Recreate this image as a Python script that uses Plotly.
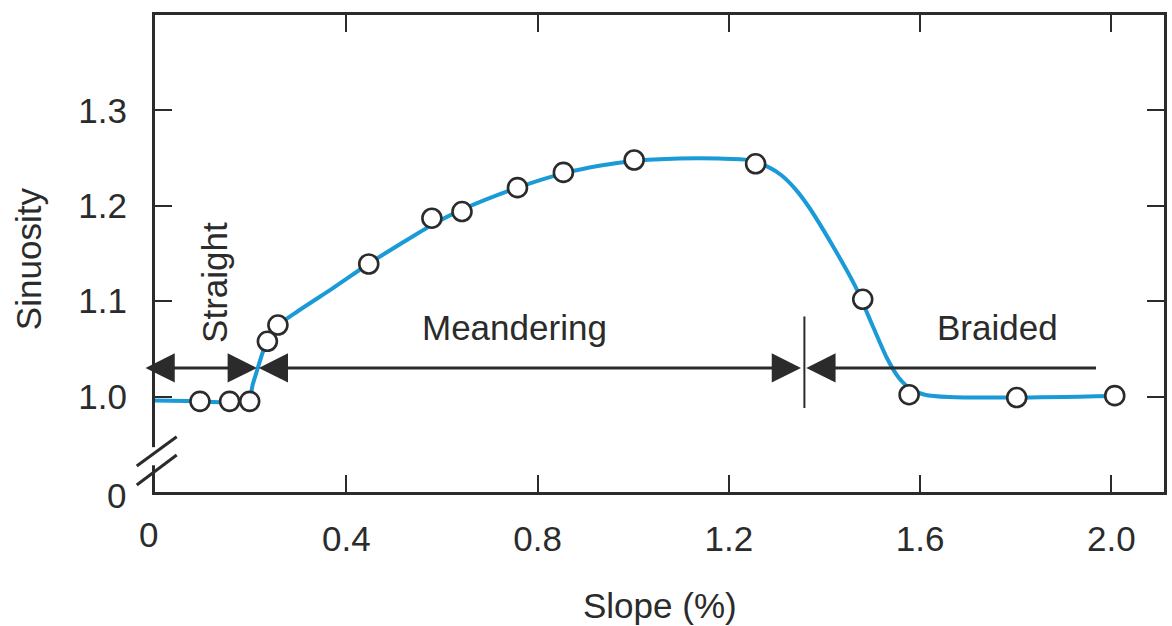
import plotly.graph_objects as go

# Observed data points (slope %, sinuosity)
slope_pts = [0.094, 0.156, 0.198, 0.235, 0.257, 0.447, 0.579, 0.642, 0.758,
             0.854, 1.002, 1.256, 1.480, 1.577, 1.802, 2.007]
sinuosity_pts = [0.995, 0.995, 0.995, 1.058, 1.075, 1.139, 1.187, 1.194, 1.219,
                 1.235, 1.248, 1.244, 1.102, 1.002, 0.999, 1.001]

# Smoothed trend curve
curve_x = [0.0, 0.096, 0.179, 0.198, 0.204, 0.215, 0.225, 0.235, 0.256, 0.300,
           0.373, 0.446, 0.513, 0.579, 0.642, 0.758, 0.854, 0.929, 1.002, 1.096,
           1.179, 1.242, 1.285, 1.310, 1.340, 1.367, 1.415, 1.465, 1.500, 1.530,
           1.555, 1.580, 1.610, 1.660, 1.802, 2.006]
curve_y = [0.996, 0.995, 0.994, 0.9985, 1.012, 1.030, 1.046, 1.058, 1.074, 1.090,
           1.114, 1.139, 1.160, 1.180, 1.196, 1.219, 1.234, 1.242, 1.247, 1.2495,
           1.2495, 1.248, 1.240, 1.232, 1.217, 1.199, 1.160, 1.115, 1.075, 1.041,
           1.020, 1.008, 1.002, 0.9995, 0.999, 1.0006]

x_ticks = [0.4, 0.8, 1.2, 1.6, 2.0]
x_ticktext = ["0.4", "0.8", "1.2", "1.6", "2.0"]
y_ticks = [1.0, 1.1, 1.2, 1.3]
y_ticktext = ["1.0", "1.1", "1.2", "1.3"]

arrow_y = 1.03
boundary_straight = 0.215
boundary_braided = 1.358

INK = "#2b2b2b"
BLUE = "#1a9ad6"
FONT = "Liberation Sans, Arial, sans-serif"
FS = 35

fig = go.Figure()
fig.add_trace(go.Scatter(x=curve_x, y=curve_y, mode="lines",
                         line=dict(color=BLUE, width=4, shape="spline", smoothing=0.7),
                         hoverinfo="skip", showlegend=False))
fig.add_trace(go.Scatter(x=slope_pts, y=sinuosity_pts, mode="markers",
                         marker=dict(size=19, color="white",
                                     line=dict(color=INK, width=2.6)),
                         showlegend=False, cliponaxis=False))

axis_common = dict(showline=True, linecolor=INK, linewidth=3, mirror="allticks",
                   ticks="inside", ticklen=17, tickwidth=2, tickcolor=INK,
                   showgrid=False, zeroline=False,
                   tickfont=dict(family=FONT, size=FS, color=INK))

fig.update_xaxes(range=[0, 2.11], tickvals=x_ticks, ticktext=x_ticktext,
                 ticklabelstandoff=14, **axis_common)
fig.update_yaxes(range=[0.9, 1.4], tickvals=y_ticks, ticktext=y_ticktext,
                 ticklabelstandoff=18, **axis_common)

annotations = []
HS = 1.95
arrow_style = dict(showarrow=True, arrowcolor=INK, arrowwidth=3,
                   arrowhead=2, arrowsize=HS, startarrowhead=2,
                   startarrowsize=HS, axref="x", ayref="y", text="",
                   xref="x", yref="y", standoff=0, startstandoff=0)
# Straight (double-headed)
annotations.append(dict(x=boundary_straight - 0.002, y=arrow_y, ax=-0.023, ay=arrow_y,
                        arrowside="end+start", **arrow_style))
# Meandering (double-headed)
annotations.append(dict(x=boundary_straight + 0.002, y=arrow_y,
                        ax=boundary_braided - 0.004, ay=arrow_y,
                        arrowside="end+start", **arrow_style))
# Braided (head at left only)
annotations.append(dict(x=boundary_braided + 0.004, y=arrow_y, ax=1.971, ay=arrow_y,
                        arrowside="end", **arrow_style))

text_style = dict(showarrow=False, font=dict(family=FONT, size=FS, color=INK))
annotations.append(dict(x=0.123, y=1.120, xref="x", yref="y", text="Straight",
                        textangle=-90, **text_style))
annotations.append(dict(x=0.751, y=1.072, xref="x", yref="y", text="Meandering",
                        **text_style))
annotations.append(dict(x=1.761, y=1.072, xref="x", yref="y", text="Braided",
                        **text_style))
# zero labels on the broken axes
annotations.append(dict(x=-0.006, y=-0.09, xref="paper", yref="paper", text="0",
                        xanchor="center", yanchor="middle", **text_style))
annotations.append(dict(x=-0.027, y=-0.008, xref="paper", yref="paper", text="0",
                        xanchor="right", yanchor="middle", **text_style))
# axis titles
annotations.append(dict(x=0.5, y=-0.238, xref="paper", yref="paper", text="Slope (%)",
                        xanchor="center", yanchor="middle", **text_style))
annotations.append(dict(x=-0.126, y=0.49, xref="paper", yref="paper", text="Sinuosity",
                        textangle=-90, xanchor="center", yanchor="middle", **text_style))

shapes = [
    # boundary tick between meandering and braided
    dict(type="line", xref="x", yref="y", x0=boundary_braided, x1=boundary_braided,
         y0=0.988, y1=1.084, line=dict(color=INK, width=2)),
    # axis break gap
    dict(type="line", xref="paper", yref="paper", x0=0, x1=0, y0=0.056, y1=0.094,
         line=dict(color="white", width=6), layer="above"),
    # break slashes
    dict(type="line", xref="paper", yref="paper", x0=-0.0181, y0=0.0545,
         x1=0.0215, y1=0.1159, line=dict(color=INK, width=3), layer="above"),
    dict(type="line", xref="paper", yref="paper", x0=-0.0181, y0=0.0147,
         x1=0.0215, y1=0.0776, line=dict(color=INK, width=3), layer="above"),
]

fig.update_layout(width=1172, height=626, margin=dict(l=155, r=5, t=15, b=134),
                  paper_bgcolor="white", plot_bgcolor="white",
                  annotations=annotations, shapes=shapes, showlegend=False)

fig.write_html("out.html")
